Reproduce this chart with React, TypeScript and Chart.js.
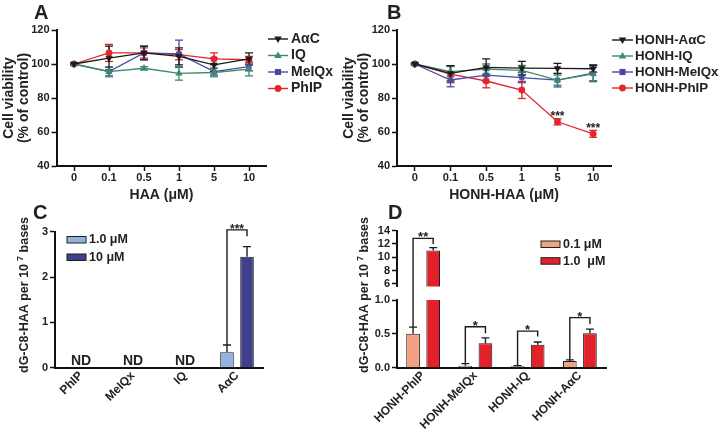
import React, { useEffect, useRef } from 'react';
import { Chart, registerables } from 'chart.js';

Chart.register(...registerables);

const FONT = "'Liberation Sans', Arial, Helvetica, sans-serif";

// ---------------- Data ----------------
const doseLabels = ['0', '0.1', '0.5', '1', '5', '10'];
const namesA = ['AαC', 'IQ', 'MeIQx', 'PhIP'];
const namesB = ['HONH-AαC', 'HONH-IQ', 'HONH-MeIQx', 'HONH-PhIP'];
const viabilityTicks = [40, 60, 80, 100, 120];

// Panel A (HAA)
const aAaC = [100, 103.5, 106.5, 104.5, 99.5, 103];
const aAaCErr = [0.5, 7, 4, 5, 4, 3.5];
const aIQ = [100, 95.5, 97.5, 94.5, 95, 97];
const aIQErr = [0.5, 3, 1, 4, 2.5, 4];
const aMeIQx = [100, 95.5, 106.5, 106, 95.5, 98.5];
const aMeIQxErr = [0.5, 2.5, 4, 8, 2, 2.5];
const aPhIP = [100, 106.5, 106.5, 105.5, 103, 102.5];
const aPhIPErr = [0.5, 5, 3, 3, 3.5, 2];

// Panel B (HONH-HAA)
const bAaC = [100, 94.5, 98, 97.6, 97.4, 97.2];
const bAaCErr = [0.5, 4.5, 5, 4, 3, 2];
const bIQ = [100, 95.5, 97, 96.2, 90.5, 94.2];
const bIQErr = [0.5, 3, 3, 3, 3, 4];
const bMeIQx = [100, 90.6, 93.5, 92, 90.5, 94.6];
const bMeIQxErr = [0.5, 4, 4, 3, 4, 5];
const bPhIP = [100, 94, 90, 84.7, 66, 58.9];
const bPhIPErr = [0.5, 5, 4, 5, 1.8, 2];
const bPhIPSig = ['', '', '', '', '***', '***'];

// Panel C
const cCats = ['PhIP', 'MeIQx', 'IQ', 'AαC'];
const cLegend = ['1.0 μM', '10 μM'];
const c1uM = [null, null, null, 0.34];
const c1uMErr = [null, null, null, 0.16];
const c10uM = [null, null, null, 2.45];
const c10uMErr = [null, null, null, 0.22];
const cND = ['ND', 'ND', 'ND', ''];
const cSig = ['', '', '', '***'];
const cBracketTop = [null, null, null, 3.04];
const cBracketRight = [null, null, null, 2.9];
const cTicks = [0, 1, 2, 3];

// Panel D
const dCats = ['HONH-PhIP', 'HONH-MeIQx', 'HONH-IQ', 'HONH-AαC'];
const dLegend = ['0.1 μM', '1.0  μM'];
const d01 = [0.5, 0.03, 0.02, 0.1];
const d01Err = [0.1, 0.03, 0.01, 0.015];
const d10 = [11, 0.36, 0.34, 0.51];
const d10Err = [0.45, 0.08, 0.04, 0.06];
const dSig = ['**', '*', '*', '*'];
const dBracketTop = [12.85, 0.605, 0.54, 0.74];
const dBracketRight = [12.0, 0.51, 0.46, 0.645];
const dTopTicks = [6, 8, 10, 12, 14];
const dBottomTicks = [0, 0.5, 1.0];

// ---------------- Styles / layout ----------------
const seriesColors = ['#1b1b1b', '#3d8a6a', '#4a4aa6', '#e3262b'];
const seriesMarkers = ['triangle', 'triangle', 'rect', 'circle'];
const seriesRot = [180, 0, 0, 0];
const cColors = ['#90b3e2', '#3f3f8c'];
const dColors = ['#f2a282', '#e3212b'];
const TEXT = '#222';

type Box = { left: number; top: number; width: number; height: number };
type Area = { left: number; right: number; top: number; bottom: number };

const boxA: Box = { left: 0, top: 0, width: 360, height: 215 };
const areaA: Area = { left: 56.5, right: 266.5, top: 30, bottom: 166 };
const boxB: Box = { left: 340, top: 0, width: 380, height: 215 };
const areaB: Area = { left: 397, right: 611, top: 30, bottom: 166 };
const boxC: Box = { left: 0, top: 200, width: 360, height: 231 };
const areaC: Area = { left: 55, right: 263, top: 231.7, bottom: 367.7 };
const boxDT: Box = { left: 350, top: 200, width: 370, height: 95 };
const areaDT: Area = { left: 397, right: 606, top: 230.7, bottom: 291.2 };
const boxDB: Box = { left: 350, top: 200, width: 370, height: 231 };
const areaDB: Area = { left: 397, right: 606, top: 300, bottom: 367.7 };

function lay(box: Box, area: Area) {
  return {
    padding: { left: 0, top: area.top - box.top, right: box.left + box.width - area.right, bottom: 0 },
    yWidth: area.left - box.left,
    xHeight: box.top + box.height - area.bottom,
  };
}

function txt(ctx: CanvasRenderingContext2D, s: string, x: number, y: number, size: number, align: CanvasTextAlign = 'left', base: CanvasTextBaseline = 'alphabetic', color = TEXT) {
  ctx.save();
  ctx.font = `bold ${size}px ${FONT}`;
  ctx.fillStyle = color;
  ctx.textAlign = align;
  ctx.textBaseline = base;
  ctx.fillText(s, x, y);
  ctx.restore();
}

function marker(ctx: CanvasRenderingContext2D, style: string, rot: number, x: number, y: number, r: number, color: string) {
  ctx.save();
  ctx.fillStyle = color;
  ctx.beginPath();
  if (style === 'circle') {
    ctx.arc(x, y, r, 0, Math.PI * 2);
  } else if (style === 'rect') {
    const s = r * 0.9;
    ctx.rect(x - s, y - s, 2 * s, 2 * s);
  } else {
    const d = rot === 180 ? -1 : 1;
    ctx.moveTo(x, y - d * r * 1.15);
    ctx.lineTo(x - r * 1.1, y + d * r * 0.7);
    ctx.lineTo(x + r * 1.1, y + d * r * 0.7);
    ctx.closePath();
  }
  ctx.fill();
  ctx.restore();
}

function errLine(ctx: CanvasRenderingContext2D, x: number, y0: number, y1: number, cap: number, color: string, lw: number) {
  ctx.save();
  ctx.strokeStyle = color;
  ctx.lineWidth = lw;
  ctx.beginPath();
  ctx.moveTo(x, y0);
  ctx.lineTo(x, y1);
  ctx.moveTo(x - cap, y1);
  ctx.lineTo(x + cap, y1);
  ctx.stroke();
  ctx.restore();
}

function bracket(ctx: CanvasRenderingContext2D, xl: number, yl: number, xr: number, yr: number, yt: number) {
  ctx.save();
  ctx.strokeStyle = '#1a1a1a';
  ctx.lineWidth = 1.4;
  ctx.beginPath();
  ctx.moveTo(xl, yl);
  ctx.lineTo(xl, yt);
  ctx.lineTo(xr, yt);
  ctx.lineTo(xr, yr);
  ctx.stroke();
  ctx.restore();
}

function supTitle(ctx: CanvasRenderingContext2D, cx: number, cy: number, size: number) {
  ctx.save();
  ctx.translate(cx, cy);
  ctx.rotate(-Math.PI / 2);
  ctx.fillStyle = TEXT;
  ctx.textBaseline = 'middle';
  ctx.textAlign = 'left';
  const f = `bold ${size}px ${FONT}`;
  const fs = `bold ${Math.round(size * 0.7)}px ${FONT}`;
  const p1 = 'dG-C8-HAA per 10';
  const p2 = '7';
  const p3 = ' bases';
  ctx.font = f;
  const w1 = ctx.measureText(p1).width;
  const w3 = ctx.measureText(p3).width;
  ctx.font = fs;
  const w2 = ctx.measureText(p2).width;
  let x = -(w1 + 3 + w2 + w3) / 2;
  ctx.font = f;
  ctx.fillText(p1, x, 0);
  x += w1 + 3;
  ctx.font = fs;
  ctx.fillText(p2, x, -size * 0.38);
  x += w2;
  ctx.font = f;
  ctx.fillText(p3, x, 0);
  ctx.restore();
}

function yAxis(ticksArr: number[], min: number, max: number, width: number, fmt?: (v: number) => string, title?: any) {
  return {
    min,
    max,
    afterBuildTicks: (s: any) => {
      s.ticks = ticksArr.map((v) => ({ value: v }));
    },
    afterFit: (s: any) => {
      s.width = width;
    },
    ticks: {
      color: TEXT,
      autoSkip: false,
      font: { size: 11, weight: 'bold' as const, family: FONT },
      padding: 2,
      callback: (v: any) => (fmt ? fmt(Number(v)) : String(v)),
    },
    grid: { display: true, drawOnChartArea: false, drawTicks: true, tickLength: 5, tickWidth: 1.5, tickColor: '#111' },
    border: { display: true, color: '#111', width: 2 },
    title: title || { display: false },
  };
}

// ---------------- Line charts (A, B) ----------------
function lineChart(canvas: HTMLCanvasElement, p: {
  box: Box; area: Area; names: string[]; series: number[][]; errs: number[][];
  xTitle: string; yTitlePad: number; legendRows: number[]; legendX0: number; legendX1: number; legendTextX: number;
  legendSize: number; letter: string; letterX: number; sig?: string[];
}) {
  const L = lay(p.box, p.area);
  const ox = p.box.left;
  const oy = p.box.top;
  const datasets = p.names.map((n, i) => ({
    label: n,
    data: p.series[i],
    borderColor: seriesColors[i],
    backgroundColor: seriesColors[i],
    borderWidth: 1.3,
    pointStyle: seriesMarkers[i] as any,
    pointRotation: seriesRot[i],
    pointRadius: seriesMarkers[i] === 'triangle' ? 3.8 : 3.2,
    pointBorderWidth: 0.5,
    tension: 0,
  }));
  const decor = {
    id: 'decor',
    beforeDatasetsDraw(chart: any) {
      const ctx = chart.ctx;
      const ys = chart.scales.y;
      for (let di = datasets.length - 1; di >= 0; di--) {
        const meta = chart.getDatasetMeta(di);
        meta.data.forEach((pt: any, i: number) => {
          const v = p.series[di][i];
          const e = p.errs[di][i];
          const y1 = ys.getPixelForValue(v + e);
          const y2 = ys.getPixelForValue(v - e);
          errLine(ctx, pt.x, y2, y1, 4, seriesColors[di], 1.3);
          ctx.save();
          ctx.strokeStyle = seriesColors[di];
          ctx.lineWidth = 1.3;
          ctx.beginPath();
          ctx.moveTo(pt.x - 4, y2);
          ctx.lineTo(pt.x + 4, y2);
          ctx.stroke();
          ctx.restore();
        });
      }
    },
    afterDraw(chart: any) {
      const ctx = chart.ctx;
      const ys = chart.scales.y;
      txt(ctx, p.letter, p.letterX - ox, 18.5 - oy, 20);
      p.names.forEach((n, i) => {
        const y = p.legendRows[i] - oy;
        ctx.save();
        ctx.strokeStyle = seriesColors[i];
        ctx.lineWidth = 1.4;
        ctx.beginPath();
        ctx.moveTo(p.legendX0 - ox, y);
        ctx.lineTo(p.legendX1 - ox, y);
        ctx.stroke();
        ctx.restore();
        marker(ctx, seriesMarkers[i], seriesRot[i], (p.legendX0 + p.legendX1) / 2 - ox, y, 3.4, seriesColors[i]);
        txt(ctx, n, p.legendTextX - ox, y, p.legendSize, 'left', 'middle');
      });
      if (p.sig) {
        const last = p.series.length - 1;
        const meta = chart.getDatasetMeta(last);
        p.sig.forEach((s, i) => {
          if (!s) return;
          const yTop = ys.getPixelForValue(p.series[last][i] + p.errs[last][i]);
          txt(ctx, s, meta.data[i].x, yTop + 1.5, 12, 'center', 'alphabetic');
        });
      }
    },
  };
  return new Chart(canvas, {
    type: 'line',
    data: { labels: doseLabels, datasets },
    options: {
      animation: false,
      responsive: false,
      maintainAspectRatio: false,
      layout: { padding: L.padding },
      plugins: { legend: { display: false }, tooltip: { enabled: false } },
      scales: {
        x: {
          type: 'category',
          offset: true,
          afterFit: (s: any) => {
            s.height = L.xHeight;
          },
          ticks: { color: TEXT, font: { size: 11, weight: 'bold', family: FONT }, padding: 0, maxRotation: 0, autoSkip: false },
          grid: { display: true, drawOnChartArea: false, drawTicks: true, tickLength: 5, tickWidth: 1.5, tickColor: '#111', offset: false },
          border: { display: true, color: '#111', width: 2 },
          title: { display: true, text: p.xTitle, color: TEXT, font: { size: 14, weight: 'bold', family: FONT }, padding: { top: 0, bottom: 11 } },
        },
        y: yAxis(viabilityTicks, 40, 120, L.yWidth, undefined, {
          display: true,
          text: ['Cell viability', '(% of control)'],
          color: TEXT,
          font: { size: 14, weight: 'bold', family: FONT, lineHeight: 15 / 14 },
          padding: { top: p.yTitlePad, bottom: 0 },
        }),
      },
    } as any,
    plugins: [decor],
  });
}

// ---------------- Bar chart helpers ----------------
function barDataset(label: string, data: (number | null)[], color: string) {
  return {
    label,
    data,
    backgroundColor: color,
    borderColor: '#1e1e1e',
    borderWidth: 1,
    categoryPercentage: 0.77,
    barPercentage: 0.68,
  };
}

function barX(L: any, display: boolean) {
  return {
    type: 'category',
    offset: true,
    display,
    afterFit: (s: any) => {
      s.height = L.xHeight;
    },
    ticks: { color: TEXT, font: { size: 12, weight: 'bold', family: FONT }, padding: 1, minRotation: 45, maxRotation: 45, autoSkip: false },
    grid: { display: false, drawTicks: false },
    border: { display: true, color: '#111', width: 2 },
  };
}

function legendBoxes(ctx: CanvasRenderingContext2D, labels: string[], colors: string[], x: number, tops: number[], textX: number) {
  labels.forEach((l, i) => {
    ctx.save();
    ctx.fillStyle = colors[i];
    ctx.strokeStyle = '#1e1e1e';
    ctx.lineWidth = 1;
    ctx.fillRect(x, tops[i], 19, 6.5);
    ctx.strokeRect(x, tops[i], 19, 6.5);
    ctx.restore();
    txt(ctx, l, textX, tops[i] + 3.5, 12.5, 'left', 'middle');
  });
}

// ---------------- Panel C ----------------
function chartC(canvas: HTMLCanvasElement) {
  const L = lay(boxC, areaC);
  const ox = boxC.left;
  const oy = boxC.top;
  const decor = {
    id: 'decorC',
    afterDraw(chart: any) {
      const ctx = chart.ctx;
      const ys = chart.scales.y;
      const xs = chart.scales.x;
      txt(ctx, 'C', 33 - ox, 218.5 - oy, 20);
      supTitle(ctx, 25 - ox, 295 - oy, 12.5);
      const sets: [(number | null)[], (number | null)[]][] = [[c1uM, c1uMErr], [c10uM, c10uMErr]];
      sets.forEach(([vals, errs], di) => {
        const meta = chart.getDatasetMeta(di);
        vals.forEach((v, i) => {
          if (v == null) return;
          errLine(ctx, meta.data[i].x, ys.getPixelForValue(v), ys.getPixelForValue(v + (errs[i] as number)), 4, '#1e1e1e', 1.4);
        });
      });
      cND.forEach((t, i) => {
        if (!t) return;
        txt(ctx, t, xs.getPixelForValue(i), ys.getPixelForValue(0) - 3, 14, 'center', 'alphabetic');
      });
      const m0 = chart.getDatasetMeta(0);
      const m1 = chart.getDatasetMeta(1);
      cSig.forEach((s, i) => {
        if (!s) return;
        const xl = m0.data[i].x;
        const xr = m1.data[i].x;
        const yt = ys.getPixelForValue(cBracketTop[i] as number);
        bracket(ctx, xl, ys.getPixelForValue((c1uM[i] as number) + (c1uMErr[i] as number)), xr, ys.getPixelForValue(cBracketRight[i] as number), yt);
        txt(ctx, s, (xl + xr) / 2, yt + 3.5, 12, 'center', 'alphabetic');
      });
      legendBoxes(ctx, cLegend, cColors, 67 - ox, [236.5 - oy, 254 - oy], 89 - ox);
    },
  };
  return new Chart(canvas, {
    type: 'bar',
    data: {
      labels: cCats,
      datasets: [barDataset(cLegend[0], c1uM, cColors[0]), barDataset(cLegend[1], c10uM, cColors[1])],
    },
    options: {
      animation: false,
      responsive: false,
      maintainAspectRatio: false,
      layout: { padding: L.padding },
      plugins: { legend: { display: false }, tooltip: { enabled: false } },
      scales: {
        x: barX(L, true),
        y: yAxis(cTicks, 0, 3, L.yWidth),
      },
    } as any,
    plugins: [decor],
  });
}

// ---------------- Panel D (broken axis: two charts) ----------------
function chartDTop(canvas: HTMLCanvasElement) {
  const L = lay(boxDT, areaDT);
  L.padding.bottom = boxDT.top + boxDT.height - areaDT.bottom;
  const decor = {
    id: 'decorDT',
    afterDatasetsDraw(chart: any) {
      const ctx = chart.ctx;
      const ys = chart.scales.y;
      const sets: [number[], number[]][] = [[d01, d01Err], [d10, d10Err]];
      sets.forEach(([vals, errs], di) => {
        const meta = chart.getDatasetMeta(di);
        vals.forEach((v, i) => {
          if (v < ys.min) return;
          errLine(ctx, meta.data[i].x, ys.getPixelForValue(v), ys.getPixelForValue(v + errs[i]), 4, '#1e1e1e', 1.4);
        });
      });
    },
  };
  return new Chart(canvas, {
    type: 'bar',
    data: {
      labels: dCats,
      datasets: [barDataset(dLegend[0], d01, dColors[0]), barDataset(dLegend[1], d10, dColors[1])],
    },
    options: {
      animation: false,
      responsive: false,
      maintainAspectRatio: false,
      layout: { padding: L.padding },
      plugins: { legend: { display: false }, tooltip: { enabled: false } },
      scales: {
        x: barX(L, false),
        y: yAxis(dTopTicks, 5.6, 14, L.yWidth),
      },
    } as any,
    plugins: [decor],
  });
}

function chartDBottom(canvas: HTMLCanvasElement, top: Chart) {
  const L = lay(boxDB, areaDB);
  const ox = boxDB.left;
  const oy = boxDB.top;
  const dy = boxDT.top - boxDB.top;
  const decor = {
    id: 'decorDB',
    afterDraw(chart: any) {
      const ctx = chart.ctx;
      const ys = chart.scales.y;
      const yt = (top as any).scales.y;
      const yD = (v: number) => (v > 1.5 ? yt.getPixelForValue(v) + dy : ys.getPixelForValue(v));
      txt(ctx, 'D', 388 - ox, 218.5 - oy, 20);
      supTitle(ctx, 365 - ox, 295 - oy, 12.5);
      const sets: [number[], number[]][] = [[d01, d01Err], [d10, d10Err]];
      sets.forEach(([vals, errs], di) => {
        const meta = chart.getDatasetMeta(di);
        vals.forEach((v, i) => {
          if (v + errs[i] > ys.max) return;
          errLine(ctx, meta.data[i].x, ys.getPixelForValue(v), ys.getPixelForValue(v + errs[i]), 4, '#1e1e1e', 1.4);
        });
      });
      const m0 = chart.getDatasetMeta(0);
      const m1 = chart.getDatasetMeta(1);
      dSig.forEach((s, i) => {
        const xl = m0.data[i].x;
        const xr = m1.data[i].x;
        const ytop = yD(dBracketTop[i]);
        bracket(ctx, xl, yD(d01[i] + d01Err[i]), xr, yD(dBracketRight[i]), ytop);
        txt(ctx, s, (xl + xr) / 2, ytop + 3, 13, 'center', 'alphabetic');
      });
      legendBoxes(ctx, dLegend, dColors, 541 - ox, [241 - oy, 257.7 - oy], 563 - ox);
    },
  };
  return new Chart(canvas, {
    type: 'bar',
    data: {
      labels: dCats,
      datasets: [barDataset(dLegend[0], d01, dColors[0]), barDataset(dLegend[1], d10, dColors[1])],
    },
    options: {
      animation: false,
      responsive: false,
      maintainAspectRatio: false,
      layout: { padding: L.padding },
      plugins: { legend: { display: false }, tooltip: { enabled: false } },
      scales: {
        x: barX(L, true),
        y: yAxis(dBottomTicks, 0, 1.0, L.yWidth, (v) => v.toFixed(1)),
      },
    } as any,
    plugins: [decor],
  });
}

function Cv({ box, cref }: { box: Box; cref: React.RefObject<HTMLCanvasElement | null> }) {
  return (
    <canvas
      ref={cref}
      width={box.width}
      height={box.height}
      style={{ position: 'absolute', left: box.left, top: box.top, width: box.width, height: box.height }}
    />
  );
}

export default function App() {
  const rA = useRef<HTMLCanvasElement>(null);
  const rB = useRef<HTMLCanvasElement>(null);
  const rC = useRef<HTMLCanvasElement>(null);
  const rDB = useRef<HTMLCanvasElement>(null);
  const rDT = useRef<HTMLCanvasElement>(null);

  useEffect(() => {
    Chart.defaults.font.family = FONT;
    Chart.defaults.color = TEXT;
    const charts: Chart[] = [];
    charts.push(
      lineChart(rA.current!, {
        box: boxA, area: areaA, names: namesA,
        series: [aAaC, aIQ, aMeIQx, aPhIP], errs: [aAaCErr, aIQErr, aMeIQxErr, aPhIPErr],
        xTitle: 'HAA (μM)', yTitlePad: 1.5,
        legendRows: [39, 55.5, 72, 88.5], legendX0: 268, legendX1: 288, legendTextX: 291, legendSize: 14,
        letter: 'A', letterX: 34,
      })
    );
    charts.push(
      lineChart(rB.current!, {
        box: boxB, area: areaB, names: namesB,
        series: [bAaC, bIQ, bMeIQx, bPhIP], errs: [bAaCErr, bIQErr, bMeIQxErr, bPhIPErr],
        xTitle: 'HONH-HAA (μM)', yTitlePad: 2,
        legendRows: [40, 56, 72, 88], legendX0: 612, legendX1: 633, legendTextX: 635, legendSize: 13.3,
        letter: 'B', letterX: 387, sig: bPhIPSig,
      })
    );
    charts.push(chartC(rC.current!));
    const top = chartDTop(rDT.current!);
    charts.push(top);
    charts.push(chartDBottom(rDB.current!, top));
    return () => charts.forEach((c) => c.destroy());
  }, []);

  return (
    <div style={{ position: 'absolute', left: 0, top: 0, width: 720, height: 431, background: '#fff', overflow: 'hidden' }}>
      <Cv box={boxA} cref={rA} />
      <Cv box={boxB} cref={rB} />
      <Cv box={boxC} cref={rC} />
      <Cv box={boxDB} cref={rDB} />
      <Cv box={boxDT} cref={rDT} />
    </div>
  );
}
